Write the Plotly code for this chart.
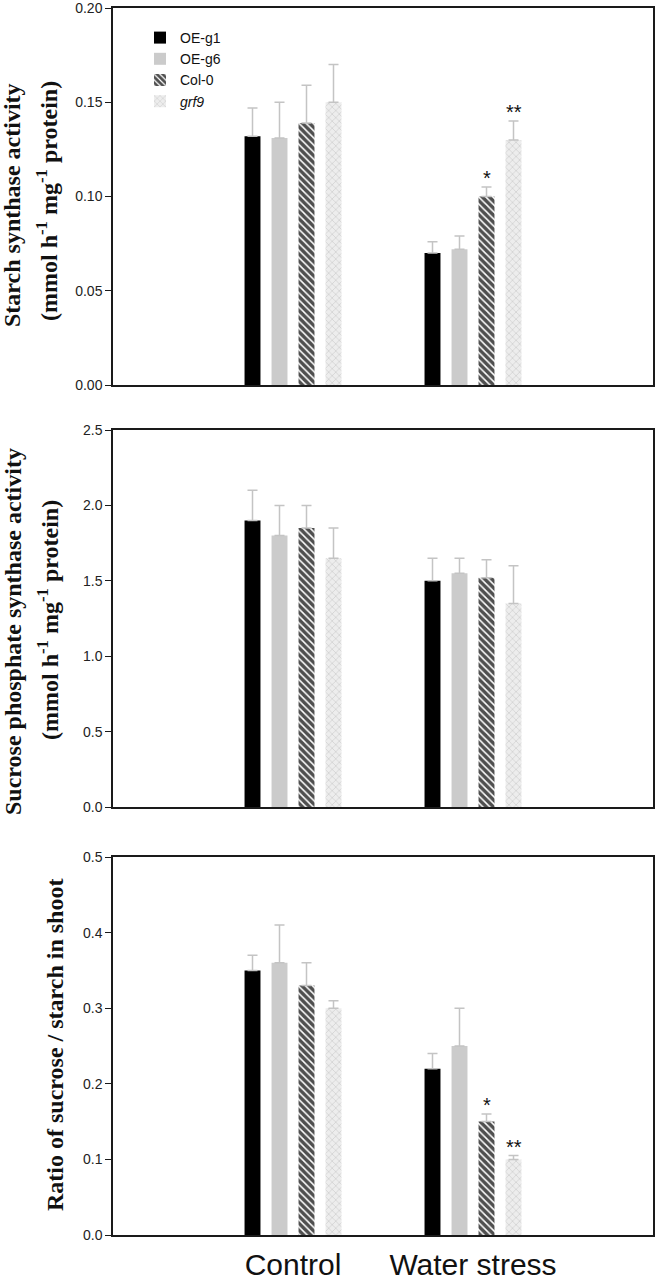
import plotly.graph_objects as go

# ---------------- data ----------------
groups = ["Control", "Water stress"]
series = ["OE-g1", "OE-g6", "Col-0", "grf9"]
legend_names = ["OE-g1", "OE-g6", "Col-0", "<i>grf9</i>"]

starch_synthase = [[0.132, 0.070], [0.131, 0.072], [0.139, 0.100], [0.150, 0.130]]
starch_synthase_err = [[0.015, 0.006], [0.019, 0.007], [0.020, 0.005], [0.020, 0.010]]
starch_synthase_marks = [["", ""], ["", ""], ["", "*"], ["", "**"]]

sps_activity = [[1.90, 1.50], [1.80, 1.55], [1.85, 1.52], [1.65, 1.35]]
sps_activity_err = [[0.20, 0.15], [0.20, 0.10], [0.15, 0.12], [0.20, 0.25]]
sps_activity_marks = [["", ""], ["", ""], ["", ""], ["", ""]]

ratio = [[0.35, 0.22], [0.36, 0.25], [0.33, 0.15], [0.30, 0.10]]
ratio_err = [[0.02, 0.02], [0.05, 0.05], [0.03, 0.01], [0.01, 0.005]]
ratio_marks = [["", ""], ["", ""], ["", "*"], ["", "**"]]

y_ranges = [[0, 0.20], [0, 2.5], [0, 0.5]]
y_dticks = [0.05, 0.5, 0.1]
y_formats = [".2f", ".1f", ".1f"]

# ---------------- styles ----------------
W, H = 655, 1280
L, R, T, B = 113, 2, 8, 45
PW, PH = W - L - R, H - T - B

fills = [
    dict(color="#000000"),
    dict(color="#cbcbcb"),
    dict(color="#4f4f4f", pattern=dict(shape="\\", fgcolor="#ffffff", bgcolor="#4f4f4f",
                                       size=5, solidity=0.3, fillmode="replace")),
    dict(color="#ebebeb", pattern=dict(shape="x", fgcolor="#cdcdcd", bgcolor="#ededed",
                                       size=5, solidity=0.25, fillmode="replace")),
]

panels = [
    (starch_synthase, starch_synthase_err, starch_synthase_marks),
    (sps_activity, sps_activity_err, sps_activity_marks),
    (ratio, ratio_err, ratio_marks),
]
ax_names = [("x", "y"), ("x2", "y2"), ("x3", "y3")]

fig = go.Figure()
for p, (vals, errs, marks) in enumerate(panels):
    xa, ya = ax_names[p]
    for i, s in enumerate(series):
        fig.add_trace(go.Bar(
            x=groups, y=vals[i], name=legend_names[i], legendgroup=s,
            showlegend=(p == 0), xaxis=xa, yaxis=ya,
            marker=dict(**fills[i], line=dict(width=0)),
            error_y=dict(type="data", symmetric=False, array=errs[i],
                         arrayminus=[0] * len(errs[i]),
                         color="#c4c4c4", thickness=1.5, width=5),
        ))

# ---------------- layout ----------------
def py(ypx):
    return (H - B - ypx) / PH

def px_(xpx):
    return (xpx - L) / PW

domains = [[py(385), 1.0], [py(807), py(430)], [0.0, py(857)]]

axis_line = dict(showline=True, linecolor="#1a1a1a", linewidth=1.5, mirror=True)
layout = dict(
    width=W, height=H, margin=dict(l=L, r=R, t=T, b=B, autoexpand=False),
    paper_bgcolor="white", plot_bgcolor="white",
    barmode="group", bargap=0.4, bargroupgap=0.41,
    font=dict(family="Liberation Sans, Arial", color="#111111"),
    showlegend=True,
    legend=dict(x=px_(140), y=py(22), xanchor="left", yanchor="top",
                bgcolor="rgba(0,0,0,0)", font=dict(size=14, family="Liberation Sans, Arial"),
                tracegroupgap=0, itemwidth=30),
)
for p in range(3):
    sfx = "" if p == 0 else str(p + 1)
    layout["xaxis" + sfx] = dict(
        domain=[0, 1], anchor="y" + sfx, type="category", automargin=False,
        categoryorder="array", categoryarray=groups, range=[-1, 2],
        showticklabels=(p == 2), ticks="", showgrid=False, zeroline=False,
        ticklabeloverflow="allow",
        tickfont=dict(size=30, family="Liberation Sans, Arial", color="#111111"),
        ticklabelstandoff=2, **axis_line)
    layout["yaxis" + sfx] = dict(
        domain=domains[p], anchor="x" + sfx, range=y_ranges[p], dtick=y_dticks[p],
        automargin=False, ticklabeloverflow="allow",
        tick0=0, tickformat=y_formats[p], ticks="outside", ticklen=6, tickwidth=1.2,
        tickcolor="#1a1a1a", showgrid=False, zeroline=False,
        tickfont=dict(size=14, family="Liberation Sans, Arial", color="#222222"),
        **axis_line)
fig.update_layout(**layout)

# ---------------- y titles ----------------
title_font = dict(family="Liberation Serif, Times New Roman", size=24, color="#111111")
titles = [
    ("<b>Starch synthase activity</b>", 12, 205),
    ("<b>(mmol h<sup>-1</sup> mg<sup>-1</sup> protein)</b>", 47, 201),
    ("<b>Sucrose phosphate synthase activity</b>", 13, 632),
    ("<b>(mmol h<sup>-1</sup> mg<sup>-1</sup> protein)</b>", 48, 620),
    ("<b>Ratio of sucrose / starch in shoot</b>", 55, 1045),
]
for text, xp, yp in titles:
    fig.add_annotation(text=text, xref="paper", yref="paper", x=px_(xp), y=py(yp),
                       xanchor="center", yanchor="middle", textangle=-90,
                       showarrow=False, font=title_font)

# ---------------- significance stars ----------------
slot = (1 - 0.4) * (PW / 3) / 4
for p, (vals, errs, marks) in enumerate(panels):
    xa, ya = ax_names[p]
    for i in range(len(series)):
        for g, grp in enumerate(groups):
            if marks[i][g]:
                fig.add_annotation(text=marks[i][g], x=grp, y=vals[i][g] + errs[i][g],
                                   xref=xa, yref=ya, xanchor="center", yanchor="bottom",
                                   xshift=(i - 1.5) * slot, yshift=-4, showarrow=False,
                                   font=dict(size=20, family="Liberation Sans, Arial",
                                             color="#111111"))

fig.write_html("out.html", config={"displayModeBar": False},
               post_script="document.body.style.margin='0';document.body.style.overflow='hidden';")
